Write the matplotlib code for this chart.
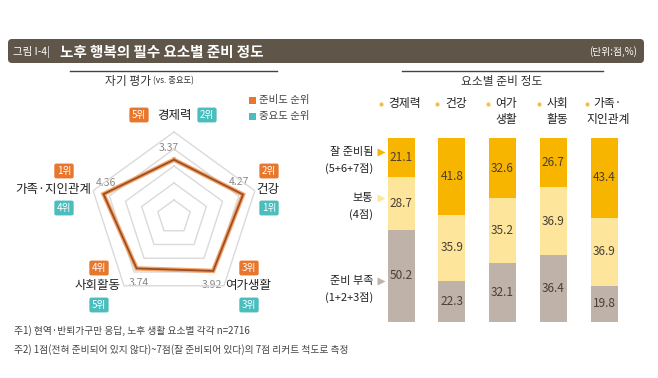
import numpy as np
import matplotlib.pyplot as plt
from matplotlib.patches import FancyBboxPatch, Rectangle

plt.rcParams['font.family'] = ['Noto Sans CJK KR', 'DejaVu Sans']

#+++++++++++++++ data
radar_cats = ['경제력', '건강', '여가생활', '사회활동', '가족·지인관계']
radar_vals = [3.37, 4.27, 3.92, 3.74, 4.36]
prep_rank = ['5위', '2위', '3위', '4위', '1위']
imp_rank = ['2위', '1위', '3위', '5위', '4위']

bar_cats = ['경제력', '건강', '여가\n생활', '사회\n활동', '가족·\n지인관계']
good = [21.1, 41.8, 32.6, 26.7, 43.4]
normal = [28.7, 35.9, 35.2, 36.9, 36.9]
short = [50.2, 22.3, 32.1, 36.4, 19.8]

#+++++++++++++++ colours
c_head = '#5f5548'
c_orange = '#e8772e'
c_teal = '#4cbdbd'
c_good = '#f8b500'
c_norm = '#fde59c'
c_short = '#bfb3a9'
c_txt = '#333333'

W, H = 658, 378
fig = plt.figure(figsize=(W/100, H/100), dpi=100)

# background axes in pixel units
bg = fig.add_axes([0, 0, 1, 1])
bg.set_xlim(0, W)
bg.set_ylim(H, 0)
bg.axis('off')

bg.add_patch(FancyBboxPatch((8, 39), 636, 24, boxstyle='round,pad=0,rounding_size=4',
                            fc=c_head, ec='none'))
bg.text(13, 51.5, '그림 I-4|', color='white', fontsize=7.5, va='center', ha='left')
bg.text(60, 51.5, '노후 행복의 필수 요소별 준비 정도', color='white', fontsize=10.5,
        fontweight='bold', va='center', ha='left')
bg.text(637, 51.5, '(단위:점,%)', color='white', fontsize=7, va='center', ha='right')

bg.plot([70, 277], [71, 71], color='#444444', lw=1)
bg.text(151, 81, '자기 평가', fontsize=8.5, ha='right', va='center', color=c_txt)
bg.text(153, 81, '(vs. 중요도)', fontsize=6, ha='left', va='center', color=c_txt)
bg.plot([402, 603], [71, 71], color='#444444', lw=1)
bg.text(502, 81, '요소별 준비 정도', fontsize=8.5, ha='center', va='center', color=c_txt)

# legend
bg.add_patch(Rectangle((249, 97), 7, 7, fc=c_orange, ec='none'))
bg.text(259, 100.5, '준비도 순위', fontsize=7.5, va='center', color='#444444')
bg.add_patch(Rectangle((249, 113), 7, 7, fc=c_teal, ec='none'))
bg.text(259, 116.5, '중요도 순위', fontsize=7.5, va='center', color='#444444')

# footnotes
bg.text(14, 331, '주1) 현역·반퇴가구만 응답, 노후 생활 요소별 각각 n=2716', fontsize=7,
        va='center', color='#444444')
bg.text(14, 350, '주2) 1점(전혀 준비되어 있지 않다)~7점(잘 준비되어 있다)의 7점 리커트 척도로 측정',
        fontsize=7, va='center', color='#444444')

#+++++++++++++++ radar
cx, cy, scale = 174, 217, 17.0   # pixel centre, px per point
half = 110
rad = fig.add_axes([(cx-half)/W, (H-cy-half)/H, 2*half/W, 2*half/H])
rad.set_xlim(-half/scale, half/scale)
rad.set_ylim(-half/scale, half/scale)
rad.axis('off')

ang = np.pi/2 - np.arange(5) * 2*np.pi/5
ang_c = np.append(ang, ang[0])
for r in [1, 2, 3, 4, 5]:
    rad.plot(r*np.cos(ang_c), r*np.sin(ang_c), color='#dadada', lw=1)
v = np.append(radar_vals, radar_vals[0])
rad.plot(v*np.cos(ang_c), v*np.sin(ang_c), color='#f4a46a', lw=3.2, solid_joinstyle='miter')
rad.plot(v*np.cos(ang_c), v*np.sin(ang_c), color='#9a4e24', lw=1.3, solid_joinstyle='miter')

# value labels (pixel positions)
val_pos = [(169, 148), (239, 182), (212, 285), (139, 283), (106, 183)]
for (px, py), val in zip(val_pos, radar_vals):
    bg.text(px, py, f'{val:.2f}', fontsize=7.5, color='#888888', ha='center', va='center')

def badge(x, y, s, col):
    bg.text(x, y, s, fontsize=7, color='white', ha='center', va='center',
            bbox=dict(boxstyle='round,pad=0.25,rounding_size=0.2', fc=col, ec='none'))

# category labels and rank badges
lab_pos = [(174, 115), (268, 189), (248, 286), (98, 286), (53, 189)]
for i, ((px, py), name) in enumerate(zip(lab_pos, radar_cats)):
    bg.text(px, py, name, fontsize=9, color='#222222', ha='center', va='center')
    if i == 0:
        badge(139, 115, prep_rank[i], c_orange)
        badge(207, 115, imp_rank[i], c_teal)
    else:
        bx = px + 1 if i in (1, 2) else px + (1 if i == 3 else 11)
        badge(bx, py - 18, prep_rank[i], c_orange)
        badge(bx, py + 19, imp_rank[i], c_teal)

#+++++++++++++++ stacked bars
x0, dx = 401, 50.75
left_px, right_px = 375, 630
top_px, bot_px = 138, 322
bar = fig.add_axes([left_px/W, (H-bot_px)/H, (right_px-left_px)/W, (bot_px-top_px)/H])
bar.set_xlim(-(x0-left_px)/dx, (right_px-x0)/dx)
bar.set_ylim(0, 100)
bar.axis('off')

xs = np.arange(len(bar_cats))
bw = 27/dx
s = np.array(short)
n = np.array(normal)
g = np.array(good)
bar.bar(xs, s, bw, color=c_short)
bar.bar(xs, n, bw, bottom=s, color=c_norm)
bar.bar(xs, g, bw, bottom=s+n, color=c_good)
for i in xs:
    bar.text(i, s[i]/2, f'{s[i]:.1f}', ha='center', va='center', fontsize=8.5, color='#4a3f35')
    bar.text(i, s[i]+n[i]/2, f'{n[i]:.1f}', ha='center', va='center', fontsize=8.5, color='#4a3f35')
    bar.text(i, s[i]+n[i]+g[i]/2, f'{g[i]:.1f}', ha='center', va='center', fontsize=8.5, color='#4a3f35')

# category headers
for i, name in enumerate(bar_cats):
    px = x0 + i*dx
    ty = 104 if '\n' not in name else 111.5
    bg.text(px + 4, ty, name, fontsize=8.5, color='#222222', ha='center', va='center',
            linespacing=1.3)
    first = name.split('\n')[0]
    w = sum(4.5 if ch == '·' else 11.5 for ch in first)
    bg.plot(px + 4 - w/2 - 7, 104, 'o', ms=3, color='#f8c040', mec='none')

# row labels
rows = [('잘 준비됨', '(5+6+7점)', 152, c_good),
        ('보통', '(4점)', 198, c_norm),
        ('준비 부족', '(1+2+3점)', 281, c_short)]
for t1, t2, py, col in rows:
    bg.text(373, py, t1, fontsize=8, color='#222222', ha='right', va='center')
    bg.text(373, py + 16, t2, fontsize=8, color='#222222', ha='right', va='center')
    bg.plot(381, py, marker='>', ms=6, color=col, mec='none')

fig.savefig('out.png', dpi=100)
